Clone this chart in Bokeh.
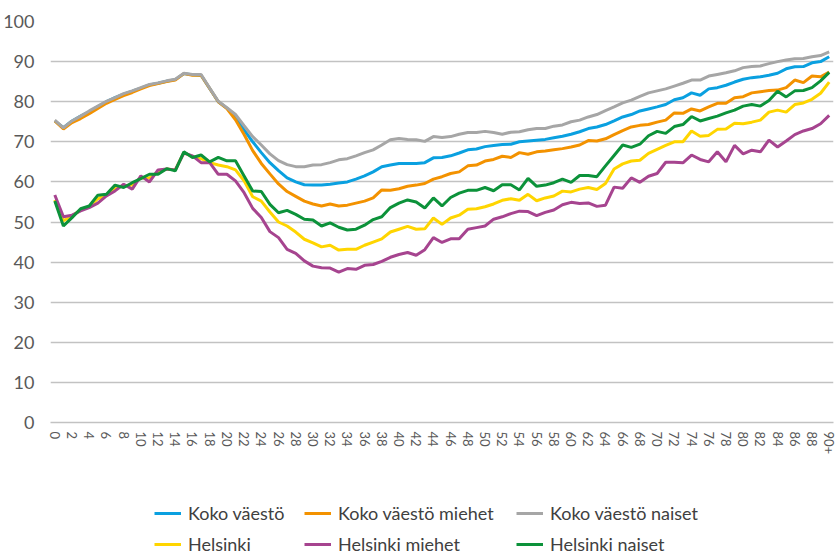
from bokeh.plotting import figure
from bokeh.layouts import column
from bokeh.models import Range1d, FixedTicker, Legend, LegendItem, ColumnDataSource
from bokeh.embed import file_html
from bokeh.resources import INLINE

ages = list(range(91))
x_ticks = list(range(0, 91, 2))
x_tick_labels = {a: str(a) for a in x_ticks}
x_tick_labels[90] = "90+"
y_ticks = list(range(0, 101, 10))

koko = [75.2, 73.5, 75.2, 76.4, 77.5, 78.8, 80.0, 81.0, 81.9, 82.6,
        83.4, 84.2, 84.6, 85.1, 85.5, 87.0, 86.7, 86.6, 83.3, 80.0,
        78.4, 76.0, 73.0, 70.0, 67.3, 64.8, 62.8, 61.0, 60.0, 59.3,
        59.2, 59.2, 59.4, 59.7, 60.0, 60.7, 61.5, 62.5, 63.8, 64.2,
        64.6, 64.6, 64.6, 64.8, 66.0, 66.1, 66.5, 67.2, 68.0, 68.2,
        68.8, 69.1, 69.3, 69.4, 70.0, 70.2, 70.4, 70.6, 71.0, 71.4,
        71.9, 72.5, 73.3, 73.7, 74.3, 75.2, 76.2, 76.8, 77.7, 78.2,
        78.7, 79.3, 80.5, 81.0, 82.2, 81.6, 83.2, 83.5, 84.1, 84.9,
        85.6, 86.0, 86.2, 86.6, 87.1, 88.2, 88.7, 88.75, 89.7, 90.0,
        91.2]

koko_miehet = [75.2, 73.2, 74.8, 75.8, 77.0, 78.3, 79.6, 80.6, 81.5, 82.3,
               83.2, 84.0, 84.5, 85.0, 85.4, 87.0, 86.6, 86.6, 83.3, 80.0,
               78.3, 75.5, 71.8, 67.8, 64.6, 62.0, 59.5, 57.6, 56.4, 55.2,
               54.5, 54.0, 54.5, 54.0, 54.2, 54.7, 55.2, 56.0, 58.0, 57.9,
               58.3, 58.9, 59.2, 59.6, 60.7, 61.3, 62.1, 62.5, 64.0, 64.2,
               65.2, 65.6, 66.4, 66.1, 67.3, 66.9, 67.5, 67.7, 68.0, 68.3,
               68.7, 69.2, 70.3, 70.2, 70.75, 71.8, 72.8, 73.7, 74.1, 74.3,
               74.9, 75.4, 77.2, 77.1, 78.2, 77.7, 78.7, 79.6, 79.6, 81.0,
               81.25, 82.2, 82.5, 82.8, 82.9, 83.5, 85.4, 84.75, 86.4, 86.2,
               87.4]

koko_naiset = [75.4, 73.5, 75.2, 76.4, 77.7, 78.9, 80.1, 81.0, 82.0, 82.7,
               83.5, 84.3, 84.7, 85.2, 85.6, 87.1, 86.8, 86.8, 83.4, 80.1,
               78.5, 76.8, 74.0, 71.3, 69.2, 67.0, 65.3, 64.3, 63.8, 63.8,
               64.2, 64.3, 64.8, 65.5, 65.8, 66.5, 67.3, 68.0, 69.2, 70.5,
               70.8, 70.6, 70.5, 70.1, 71.3, 71.1, 71.3, 71.9, 72.3, 72.3,
               72.6, 72.3, 71.9, 72.4, 72.5, 73.0, 73.3, 73.3, 73.9, 74.2,
               75.0, 75.4, 76.2, 76.8, 77.8, 78.7, 79.7, 80.4, 81.3, 82.2,
               82.7, 83.2, 83.9, 84.6, 85.4, 85.4, 86.4, 86.8, 87.2, 87.7,
               88.5, 88.8, 88.9, 89.5, 90.0, 90.4, 90.7, 90.75, 91.2, 91.5,
               92.4]

helsinki = [55.5, 50.3, 51.5, 53.0, 53.8, 55.8, 56.7, 58.5, 59.0, 59.2,
            61.0, 61.0, 62.5, 63.2, 63.0, 67.3, 66.3, 65.8, 64.8, 64.2,
            63.8, 63.0, 60.3, 56.3, 55.2, 52.5, 50.0, 49.0, 47.5, 45.7,
            44.8, 43.8, 44.2, 43.0, 43.2, 43.2, 44.2, 45.0, 45.8, 47.5,
            48.2, 48.9, 48.2, 48.3, 51.0, 49.4, 51.0, 51.7, 53.2, 53.3,
            53.8, 54.5, 55.4, 55.8, 55.4, 56.9, 55.3, 56.0, 56.5, 57.7,
            57.5, 58.2, 58.6, 58.1, 59.6, 63.2, 64.5, 65.2, 65.4, 67.1,
            68.1, 69.1, 70.0, 70.0, 72.7, 71.4, 71.6, 73.1, 73.2, 74.6,
            74.5, 74.9, 75.4, 77.4, 77.9, 77.4, 79.3, 79.7, 80.6, 82.1,
            84.9]

helsinki_miehet = [56.75, 51.3, 51.7, 52.75, 53.6, 54.7, 56.5, 57.75, 59.4, 58.2,
                   61.5, 60.0, 63.0, 63.2, 63.0, 67.2, 66.5, 64.8, 64.8, 61.9,
                   61.9, 60.25, 57.3, 53.4, 51.1, 47.6, 46.1, 43.2, 42.2, 40.3,
                   39.0, 38.6, 38.5, 37.5, 38.4, 38.2, 39.2, 39.4, 40.2, 41.2,
                   41.9, 42.4, 41.7, 43.1, 46.1, 44.9, 45.8, 45.8, 48.2, 48.6,
                   49.0, 50.7, 51.3, 52.1, 52.7, 52.6, 51.6, 52.4, 53.0, 54.3,
                   54.9, 54.6, 54.75, 53.9, 54.2, 58.7, 58.4, 61.0, 59.9, 61.4,
                   62.1, 64.9, 64.9, 64.75, 66.7, 65.6, 65.0, 67.5, 65.0, 69.1,
                   67.0, 67.9, 67.5, 70.4, 68.7, 70.2, 71.8, 72.7, 73.3, 74.5,
                   76.6]

helsinki_naiset = [55.25, 49.0, 51.1, 53.3, 54.0, 56.7, 56.9, 59.2, 58.6, 59.8,
                   60.8, 61.9, 61.9, 63.3, 62.75, 67.5, 66.1, 66.7, 65.0, 66.1,
                   65.25, 65.25, 61.5, 57.75, 57.6, 54.4, 52.3, 52.9, 51.9, 50.7,
                   50.5, 49.0, 49.8, 48.7, 48.0, 48.2, 49.2, 50.6, 51.3, 53.6,
                   54.7, 55.5, 55.0, 53.5, 56.0, 54.0, 56.1, 57.2, 57.9, 57.9,
                   58.6, 57.8, 59.3, 59.3, 58.0, 60.9, 58.9, 59.2, 59.8, 60.7,
                   59.9, 61.6, 61.6, 61.3, 64.0, 66.6, 69.2, 68.6, 69.4, 71.5,
                   72.6, 72.1, 73.8, 74.3, 76.3, 75.2, 75.8, 76.4, 77.2, 77.9,
                   78.9, 79.3, 78.9, 80.3, 82.6, 81.2, 82.7, 82.8, 83.5, 85.2,
                   87.3]

series_names = ["Koko väestö", "Koko väestö miehet", "Koko väestö naiset",
                "Helsinki", "Helsinki miehet", "Helsinki naiset"]
series_values = [koko, koko_miehet, koko_naiset, helsinki, helsinki_miehet, helsinki_naiset]
series_colors = ["#0aa0e0", "#f39200", "#a6a6a6", "#ffd500", "#a6448f", "#0c923a"]

FONT = "Lato"
GRID = "#c2c2c2"
LINE_W = 3

source = ColumnDataSource(dict(age=ages, **{f"s{i}": v for i, v in enumerate(series_values)}))

# ---------------- main chart ----------------
p = figure(width=837, height=470, output_backend="svg", toolbar_location=None,
           x_range=Range1d(-0.5, 90.5), y_range=Range1d(0, 100),
           min_border_left=46, min_border_right=4, min_border_top=21,
           min_border_bottom=48)
p.outline_line_color = None

p.yaxis.ticker = FixedTicker(ticks=y_ticks)
p.yaxis.axis_line_color = None
p.yaxis.major_tick_line_color = None
p.yaxis.minor_tick_line_color = None
p.yaxis.major_label_standoff = 10
p.yaxis.major_label_text_font = FONT
p.yaxis.major_label_text_font_size = "18px"
p.yaxis.major_label_text_color = "#595959"

p.xaxis.ticker = FixedTicker(ticks=x_ticks)
p.xaxis.major_label_overrides = x_tick_labels
p.xaxis.major_label_orientation = "vertical"
p.xaxis.axis_line_color = GRID
p.xaxis.axis_line_width = 1.5
p.xaxis.major_tick_line_color = None
p.xaxis.minor_tick_line_color = None
p.xaxis.major_label_standoff = 3
p.xaxis.major_label_text_font = FONT
p.xaxis.major_label_text_font_size = "13px"
p.xaxis.major_label_text_color = "#595959"

p.xgrid.grid_line_color = None
p.ygrid.ticker = FixedTicker(ticks=y_ticks)
p.ygrid.grid_line_color = GRID
p.ygrid.grid_line_width = 1.5

for i, col in enumerate(series_colors):
    p.line("age", f"s{i}", source=source, line_color=col, line_width=LINE_W)

# ---------------- legend strip ----------------
# The strip's y range lies far below the data, so its copies of the series
# are never visible; they only supply the legend glyphs.
lf = figure(width=837, height=84, output_backend="svg", toolbar_location=None,
            x_range=Range1d(0, 1), y_range=Range1d(-20, -10),
            x_axis_type=None, y_axis_type=None,
            min_border_left=0, min_border_right=0, min_border_top=0, min_border_bottom=0)
lf.outline_line_color = None
lf.xgrid.grid_line_color = None
lf.ygrid.grid_line_color = None

legend_renderers = {}
for i, (name, col) in enumerate(zip(series_names, series_colors)):
    legend_renderers[name] = lf.line("age", f"s{i}", source=source,
                                     line_color=col, line_width=LINE_W)

legend_columns = [["Koko väestö", "Helsinki"],
                  ["Koko väestö miehet", "Helsinki miehet"],
                  ["Koko väestö naiset", "Helsinki naiset"]]
legend_x = [104, 254, 466]
for names, lx in zip(legend_columns, legend_x):
    leg = Legend(items=[LegendItem(label=n, renderers=[legend_renderers[n]]) for n in names],
                 location=(lx, -1), orientation="vertical",
                 glyph_width=27, glyph_height=20, label_height=20,
                 label_standoff=7, spacing=9, padding=0, margin=0,
                 border_line_color=None, background_fill_alpha=0,
                 label_text_font=FONT, label_text_font_size="18px",
                 label_text_color="#404040")
    lf.add_layout(leg)

layout = column(p, lf, spacing=0)
open("out.html", "w").write(file_html(layout, INLINE))
